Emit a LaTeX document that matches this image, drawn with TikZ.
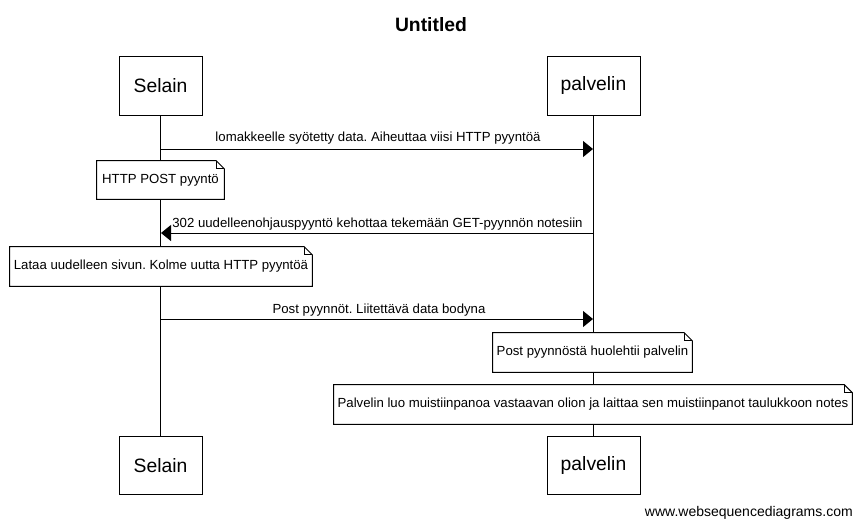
\documentclass[tikz,border=0pt]{standalone}
\usepackage{fontspec}
\setmainfont{Liberation Sans}
\usetikzlibrary{arrows.meta}
\frenchspacing
\newcommand\px{0.75pt}
\tikzset{
  actor/.style={draw, line width=0.75pt, fill=white, minimum width=83*\px, minimum height=58*\px, inner sep=0pt, font=\fontsize{14.5pt}{16pt}\selectfont},
  life/.style={line width=0.75pt},
  msg/.style={line width=0.75pt, -{Triangle[length=7.5pt,width=12pt]}},
  lbl/.style={font=\fontsize{9.9pt}{11pt}\selectfont, inner sep=0pt},
  note/.style={inner sep=0pt, font=\fontsize{9.9pt}{11pt}\selectfont},
}
\newcommand\notebox[1]{%
  \draw[line width=0.75pt, fill=white] (#1.south west) -- (#1.north west) -- ([xshift=-6pt]#1.north east) -- ([yshift=-6pt]#1.north east) -- (#1.south east) -- cycle;
  \draw[line width=0.5pt] ([xshift=-6pt]#1.north east) |- ([yshift=-6pt]#1.north east);}
\begin{document}
\begin{tikzpicture}[x=0.75pt, y=-0.75pt]
\useasboundingbox (0,0) rectangle (862,528);
\node[font=\bfseries\fontsize{14.5pt}{16pt}\selectfont] (title) at (431,25) {Untitled};
\node[actor] (s1) at (160.5,86) {Selain};
\node[actor, minimum width=93*\px] (p1) at (593.5,86) {palvelin};
\node[actor] (s2) at (160.5,465.5) {Selain};
\node[actor, minimum width=93*\px] (p2) at (593.5,465.5) {palvelin};
\draw[life] (s1.south) -- (s2.north);
\draw[life] (p1.south) -- (p2.north);
% message 1
\coordinate (a1) at (161,149); \coordinate (b1) at (593,149);
\draw[msg] (a1) -- (b1);
\node[lbl] (m1) at (378,138) {lomakkeelle syötetty data. Aiheuttaa viisi HTTP pyyntöä};
% note 1
\path node[note, minimum width=127*\px, minimum height=38*\px] (n1) at (160.5,180) {};
\notebox{n1}
\node[note] (t1) at (n1.center) {HTTP POST pyyntö};
% message 2
\coordinate (a2) at (593,233); \coordinate (b2) at (161,233);
\draw[msg] (a2) -- (b2);
\node[lbl] (m2) at (377.5,224) {302 uudelleenohjauspyyntö kehottaa tekemään GET-pyynnön notesiin};
% note 2
\path node[note, minimum width=302*\px, minimum height=39*\px] (n2) at (161,266.5) {};
\notebox{n2}
\node[note] (t2) at (n2.center) {Lataa uudelleen sivun. Kolme uutta HTTP pyyntöä};
% message 3
\coordinate (a3) at (161,319); \coordinate (b3) at (593,319);
\draw[msg] (a3) -- (b3);
\node[lbl] (m3) at (379,310) {Post pyynnöt. Liitettävä data bodyna};
% note 3
\path node[note, minimum width=199*\px, minimum height=39*\px] (n3) at (592.5,352.5) {};
\notebox{n3}
\node[note] (t3) at (n3.center) {Post pyynnöstä huolehtii palvelin};
% note 4
\path node[note, minimum width=518*\px, minimum height=39*\px] (n4) at (593,404.5) {};
\notebox{n4}
\node[note] (t4) at (n4.center) {Palvelin luo muistiinpanoa vastaavan olion ja laittaa sen muistiinpanot taulukkoon notes};
% footer
\node[lbl, anchor=east, font=\fontsize{10.5pt}{12pt}\selectfont] (foot) at (853,513) {www.websequencediagrams.com};
\end{tikzpicture}
\end{document}
